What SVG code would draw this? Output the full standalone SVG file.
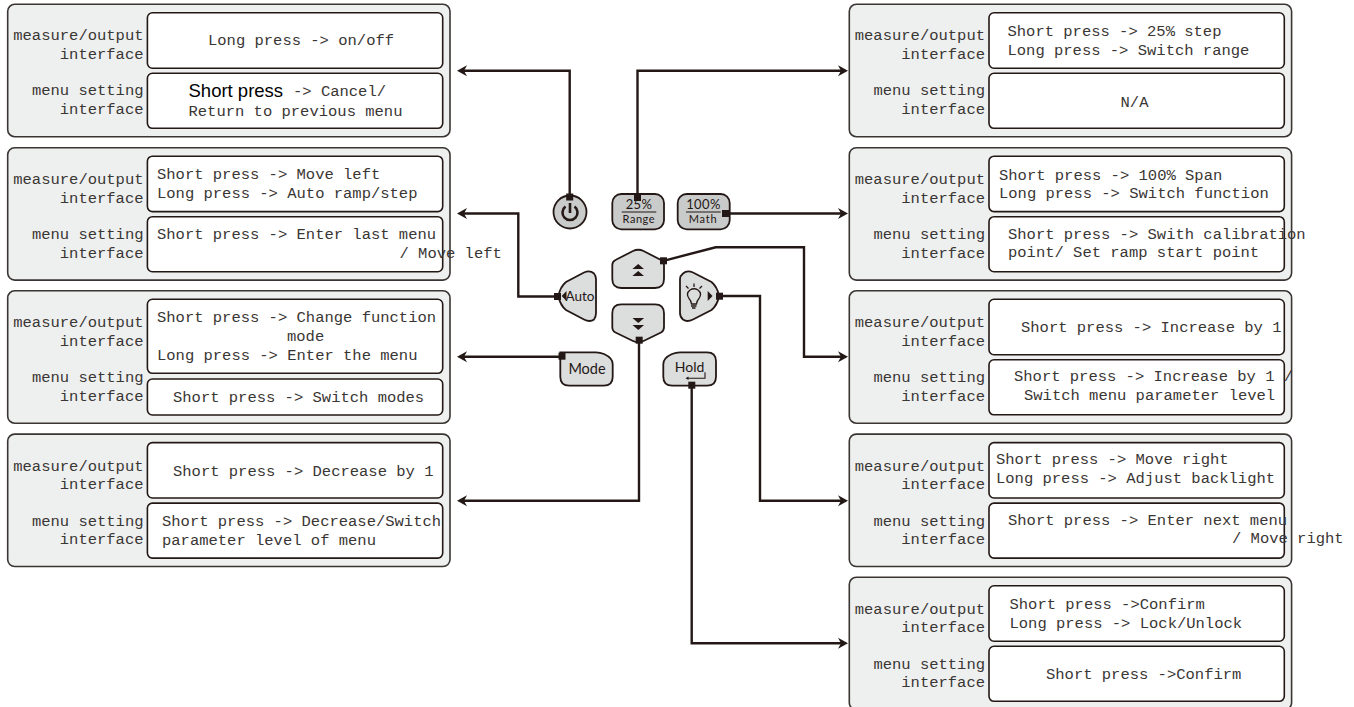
<svg xmlns="http://www.w3.org/2000/svg" width="1354" height="707" viewBox="0 0 1354 707">
<style>
text{font-family:"Liberation Mono","Noto Sans CJK SC",monospace;font-size:15.5px;fill:#3a3634}
.l{text-anchor:end}
.c{text-anchor:middle}
.p{fill:#eef0ef;stroke:#3a3533;stroke-width:1.6}
.b{fill:#fff;stroke:#231815;stroke-width:1.6}
.k{fill:#dcdddd;stroke:#231815;stroke-width:1.8}
.g{fill:#c9caca;stroke:#231815;stroke-width:1.8}
.w{stroke:#231815;stroke-width:2.4;fill:none;marker-end:url(#a)}
.s{fill:#231815}
.h{font-family:"Liberation Sans",sans-serif;font-size:18.500px;fill:#000}
.t{font-family:"Lato","Open Sans",sans-serif;font-size:13px;fill:#231815;text-anchor:middle}
</style>
<defs>
<marker id="a" markerUnits="userSpaceOnUse" markerWidth="14" markerHeight="14" refX="7" refY="7" orient="auto"><path d="M0 1.500L10 7L0 12.500L3 7Z" fill="#231815"/></marker>
<g id="labels">
<text class="l" x="0" y="40">measure/output</text><text class="l" x="0" y="58.500">interface</text>
<text class="l" x="0" y="95">menu setting</text><text class="l" x="0" y="113.500">interface</text>
</g>
<rect id="panel" class="p" x="0" y="0" width="442.300" height="132.400" rx="7"/>
<g id="frame">
<use href="#panel"/>
<rect class="b" x="139.700" y="8.500" width="295.300" height="55.400" rx="5"/>
<rect class="b" x="139.700" y="69" width="295.300" height="55" rx="5"/>
</g>
</defs>

<g id="node-power-panel">
<use href="#frame" x="7.700" y="4.300"/><use href="#labels" x="143.500"/>
<text x="208" y="44.500">Long press -&gt; on/off</text>
<text class="h" x="188.500" y="96.700">Short press</text><text x="293" y="96.200">-&gt; Cancel/</text>
<text x="188.500" y="116">Return to previous menu</text>
</g>
<g id="node-auto-panel">
<use href="#frame" x="7.700" y="147.700"/><use href="#labels" x="143.500" y="144"/>
<text x="157" y="179">Short press -&gt; Move left</text>
<text x="157" y="198.300">Long press -&gt; Auto ramp/step</text>
<text x="157" y="239.300">Short press -&gt;  Enter last menu</text>
<text x="399.500" y="258.300">/ Move left</text>
</g>
<g id="node-mode-panel">
<use href="#panel" x="7.700" y="290.800"/>
<rect class="b" x="147.400" y="299.300" width="295.300" height="74" rx="5"/>
<rect class="b" x="147.400" y="379" width="295.300" height="36" rx="5"/>
<use href="#labels" x="143.500" y="287"/>
<text x="157" y="321.700">Short press -&gt; Change function</text>
<text x="287" y="340.700">mode</text>
<text x="157" y="360">Long press -&gt; Enter the menu</text>
<text x="173" y="401.700">Short press -&gt; Switch modes</text>
</g>
<g id="node-down-panel">
<use href="#frame" x="7.700" y="434.100"/><use href="#labels" x="143.500" y="430.500"/>
<text x="173" y="476.200">Short press -&gt; Decrease by 1</text>
<text x="162" y="526">Short press -&gt; Decrease/Switch</text>
<text x="162" y="545">parameter level of menu</text>
</g>
<g id="node-range-panel">
<use href="#frame" x="849.300" y="4.300"/><use href="#labels" x="985"/>
<text x="1007.500" y="36.200">Short press -&gt; 25% step</text>
<text x="1007.500" y="55">Long press -&gt; Switch range</text>
<text class="c" x="1134.500" y="107.200">N/A</text>
</g>
<g id="node-math-panel">
<use href="#frame" x="849.300" y="147.700"/><use href="#labels" x="985" y="144"/>
<text x="999" y="179.600">Short press -&gt; 100% Span</text>
<text x="999" y="198.300">Long press -&gt; Switch function</text>
<text x="1008" y="238.500">Short press -&gt; Swith calibration</text>
<text x="1008" y="257.300">point/ Set ramp start point</text>
</g>
<g id="node-up-panel">
<use href="#frame" x="849.300" y="290.800"/><use href="#labels" x="985" y="287"/>
<text x="1021" y="331.700">Short press -&gt; Increase by 1</text>
<text x="1014" y="381.200">Short press -&gt; Increase by 1 /</text>
<text x="1024" y="399.500">Switch menu parameter level</text>
</g>
<g id="node-light-panel">
<use href="#frame" x="849.300" y="434.100"/><use href="#labels" x="985" y="430.500"/>
<text x="996" y="464">Short press -&gt; Move right</text>
<text x="996" y="483.300">Long press -&gt; Adjust backlight</text>
<text x="1008" y="525">Short press -&gt; Enter next menu</text>
<text x="1232" y="543">/ Move right</text>
</g>
<g id="node-hold-panel">
<use href="#frame" x="849.300" y="577.300"/><use href="#labels" x="985" y="573.500"/>
<text x="1009.500" y="608.800">Short press -&gt;Confirm</text>
<text x="1009.500" y="627.800">Long press -&gt; Lock/Unlock</text>
<text x="1046" y="678.500">Short press -&gt;Confirm</text>
</g>

<g id="node-power">
<circle class="g" cx="570" cy="212" r="16.500"/>
<path d="M565.500 206.500a7.500 7.500 0 1 0 9 0M570 203v10" fill="none" stroke="#231815" stroke-width="2.600"/>
</g>
<g id="node-range">
<rect class="g" x="612.300" y="194" width="51.700" height="35.300" rx="9"/>
<text class="t" x="639" y="209" style="font-size:13px;letter-spacing:.4px">25%</text>
<path d="M621.700 212h34.600" stroke="#231815" stroke-width="1.200"/>
<text class="t" x="638.800" y="223" style="font-size:11px;letter-spacing:.5px">Range</text>
</g>
<g id="node-math">
<rect class="g" x="677.700" y="194" width="52" height="35.300" rx="9"/>
<text class="t" x="703.500" y="209" style="font-size:13px;letter-spacing:.4px">100%</text>
<path d="M686 212h34.700" stroke="#231815" stroke-width="1.200"/>
<text class="t" x="703" y="223" style="font-size:11px;letter-spacing:.8px">Math</text>
</g>
<g id="node-up">
<path class="k" d="M612.300 265Q612.300 261.500 615.500 260L633 251Q638.300 248.500 643.500 251L661 260Q664 261.500 664 265V279Q664 288 655 288H621.300Q612.300 288 612.300 279Z"/>
<path class="s" d="M638.200 264l5.800 5h-11.600ZM638.200 271l5.800 5h-11.600Z"/>
</g>
<g id="node-down">
<path class="k" d="M612.300 313.300Q612.300 304.300 621.300 304.300H655Q664 304.300 664 313.300V327Q664 331 661 332.500L643.500 341Q638.300 343.500 633 341L615.500 332.500Q612.300 331 612.300 327Z"/>
<path class="s" d="M632.500 318h11.600l-5.800 5ZM632.500 325h11.600l-5.800 5Z"/>
</g>
<g id="node-auto">
<path class="k" d="M558.500 296Q560 287 566 282L584 272.500Q590 270 594 273.500Q596 276 596 279V313Q596 317 594 319.500Q590 322.500 584 319.500L566 310Q560 305 558.500 296Z"/>
<path class="s" d="M561.700 296l4.800-5v10Z"/>
<text class="t" x="580" y="300.700" style="font-size:13.500px">Auto</text>
</g>
<g id="node-light">
<path class="k" d="M719 296Q717.500 287 711.500 282L693 272.500Q687 270 683 273.500Q680 276 680 279V313Q680 317 683 319.500Q687 322.500 693 319.500L711.500 310Q717.500 305 719 296Z"/>
<path class="s" d="M707.700 291l4.800 5-4.800 5Z"/>
<path d="M691.500 304Q691 300.500 689 298.500Q685.500 293.500 690 290Q694 287.500 698 290Q702.500 293.500 699 298.500Q697 300.500 696.500 304ZM691 306h5.500M692 308h3.500M694 287v-3.500M688.500 288.500l-2.500-2.500M699.500 288.500l2.500-2.500" fill="none" stroke="#231815" stroke-width="1.300"/>
</g>
<g id="node-mode">
<path class="k" d="M560.300 360V352.300H596Q600 352.300 604 354Q612.700 358 612.700 364V376.700Q612.700 385.700 603.700 385.700H569.300Q560.300 385.700 560.300 376.700Z"/>
<text class="t" x="587" y="374" style="font-size:14.500px">Mode</text>
</g>
<g id="node-hold">
<path class="k" d="M707 352.300H680Q676 352.300 672 354Q663.300 358 663.300 364V376.700Q663.300 385.700 672.300 385.700H707Q716 385.700 716 376.700V361.300Q716 352.300 707 352.300Z"/>
<text class="t" x="689.500" y="372.300" style="font-size:14px">Hold</text>
<path d="M688 378.300h17v-6" fill="none" stroke="#231815" stroke-width="1.100"/>
<path class="s" d="M685.500 378.300l3-1.800v3.600Z"/>
</g>

<g id="connectors">
<path class="w" d="M569.700 198V70.700H460"/>
<path class="w" d="M637.500 197V70.700H845"/>
<path class="w" d="M726 213.500H845"/>
<path class="w" d="M663.500 260.800L715.700 247.300H804V356.700H845"/>
<path class="w" d="M719 296H760V500.700H845"/>
<path class="w" d="M558 296.500H518.300V213.500H460"/>
<path class="w" d="M562 356.700H460"/>
<path class="w" d="M639 340V500.700H460"/>
<path class="w" d="M691.700 385V643.300H845"/>
<g class="s">
<rect x="566.200" y="193.500" width="7" height="7"/>
<rect x="634" y="194" width="7" height="7"/>
<rect x="722" y="210" width="7" height="7"/>
<rect x="660" y="257.300" width="7" height="7"/>
<rect x="716" y="292.700" width="7" height="7"/>
<rect x="554" y="293" width="7" height="7"/>
<rect x="558.500" y="352.700" width="7" height="7"/>
<rect x="635.700" y="336.700" width="7" height="7"/>
<rect x="688.300" y="381.700" width="7" height="7"/>
</g>
</g>
</svg>
